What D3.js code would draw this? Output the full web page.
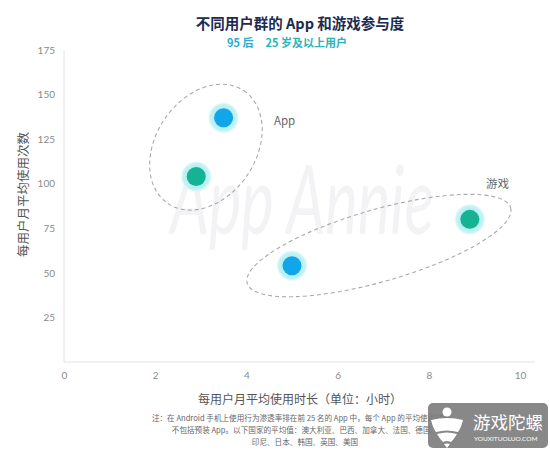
<!DOCTYPE html>
<html>
<head>
<meta charset="utf-8">
<script src="https://cdn.jsdelivr.net/npm/d3@7"></script>
<style>
  html, body { margin: 0; padding: 0; background: #fff; }
  svg { display: block; }
</style>
</head>
<body>
<svg id="chart" width="550" height="453"></svg>
<script>
// ---- data ----
const audiences = ["95 后", "25 岁及以上用户"];
const audienceColors = ["#11a6ea", "#16b294"];
const groups = ["App", "游戏"];
// hours per user per month, sessions per user per month (order follows audiences)
const appHours = [3.5, 2.9];
const appSessions = [137, 104];
const gameHours = [5.0, 8.9];
const gameSessions = [54, 80];
const xTicks = [0, 2, 4, 6, 8, 10];
const yTicks = [25, 50, 75, 100, 125, 150, 175];

const titleText = "不同用户群的 App 和游戏参与度";
const xTitle = "每用户月平均使用时长（单位：小时）";
const yTitle = "每用户月平均使用次数";
const notes = [
  "注：在 Android 手机上使用行为渗透率排在前 25 名的 App 中，每个 App 的平均使用时长。",
  "不包括预装 App。以下国家的平均值：澳大利亚、巴西、加拿大、法国、德国、",
  "印尼、日本、韩国、英国、美国"
];

const cjk = "'Noto Sans CJK SC', 'Noto Sans', sans-serif";
const num = "Lato, 'Open Sans', sans-serif";

const svg = d3.select("#chart");

const x = d3.scaleLinear().domain([0, 10]).range([64, 520]);
const y = d3.scaleLinear().domain([0, 175]).range([362, 50]);

// faint brand watermark behind the plot (condensed horizontally)
svg.append("text")
  .attr("transform", "translate(302,234) scale(0.64,1)")
  .attr("text-anchor", "middle")
  .attr("font-family", num)
  .attr("font-style", "italic")
  .attr("font-weight", 400)
  .attr("font-size", 96)
  .attr("fill", "#f3f3f5")
  .text("App Annie");

// title block
svg.append("text")
  .attr("x", 300).attr("y", 29)
  .attr("text-anchor", "middle")
  .attr("font-family", cjk)
  .attr("font-weight", 700)
  .attr("font-size", 14.5)
  .attr("fill", "#1d2b4f")
  .text(titleText);

const sub = svg.append("text")
  .attr("x", 287).attr("y", 47)
  .attr("text-anchor", "middle")
  .attr("font-family", cjk)
  .attr("font-weight", 700)
  .attr("font-size", 11);
sub.append("tspan").attr("fill", "#27acd2").text(audiences[0]);
sub.append("tspan").attr("dx", 12).attr("fill", "#27b5b6").text(audiences[1]);

// axes
const gx = svg.append("g")
  .attr("transform", `translate(0,${y(0)})`)
  .call(d3.axisBottom(x).tickValues(xTicks).tickSize(0).tickPadding(10).tickFormat(d3.format("d")));
gx.select(".domain").attr("stroke", "#e4e4e4").attr("d", `M${x(0)},0H535`);

const gy = svg.append("g")
  .attr("transform", `translate(${x(0)},0)`)
  .call(d3.axisLeft(y).tickValues(yTicks).tickSize(0).tickPadding(9).tickFormat(d3.format("d")));
gy.select(".domain").attr("stroke", "#e4e4e4").attr("d", `M0,${y(175)}V${y(0)}`);

svg.selectAll(".tick text")
  .attr("font-family", num)
  .attr("font-size", 10)
  .attr("fill", "#8a8a8a");

// axis titles
svg.append("text")
  .attr("x", 300).attr("y", 404)
  .attr("text-anchor", "middle")
  .attr("font-family", cjk)
  .attr("font-size", 12)
  .attr("fill", "#555")
  .text(xTitle);

svg.append("text")
  .attr("transform", `translate(25,${y(94)}) rotate(-90)`)
  .attr("text-anchor", "middle")
  .attr("dominant-baseline", "middle")
  .attr("font-family", cjk)
  .attr("font-size", 12.5)
  .attr("fill", "#555")
  .text(yTitle);

// notes
svg.selectAll("text.note")
  .data(notes)
  .join("text")
  .attr("class", "note")
  .attr("x", 305)
  .attr("y", (d, i) => 421 + i * 12)
  .attr("text-anchor", "middle")
  .attr("font-family", cjk)
  .attr("font-size", 7.6)
  .attr("fill", "#666")
  .text(d => d);

// group outlines: dashed ellipses around each pair of points
const groupData = [
  { name: groups[0], hours: appHours, sessions: appSessions, rx: 68, ry: 50, angle: -56, dx: -4, dy: 0, lx: 274, ly: 125 },
  { name: groups[1], hours: gameHours, sessions: gameSessions, rx: 137, ry: 36, angle: -16, dx: -2, dy: 3, lx: 486, ly: 188 }
];

groupData.forEach(g => {
  const cx = (x(g.hours[0]) + x(g.hours[1])) / 2 + g.dx;
  const cy = (y(g.sessions[0]) + y(g.sessions[1])) / 2 + g.dy;
  svg.append("ellipse")
    .attr("transform", `translate(${cx},${cy}) rotate(${g.angle})`)
    .attr("rx", g.rx).attr("ry", g.ry)
    .attr("fill", "none")
    .attr("stroke", "#a9a9a9")
    .attr("stroke-width", 1.1)
    .attr("stroke-dasharray", "4,3");
  svg.append("text")
    .attr("x", g.lx).attr("y", g.ly)
    .attr("font-family", cjk)
    .attr("font-size", 11.5)
    .attr("fill", "#666")
    .text(g.name);
});

// soft halo behind each point
const defs = svg.append("defs");
const halo = defs.append("radialGradient").attr("id", "halo");
halo.append("stop").attr("offset", "60%").attr("stop-color", "#b3eef2");
halo.append("stop").attr("offset", "85%").attr("stop-color", "#c9f3f5");
halo.append("stop").attr("offset", "100%").attr("stop-color", "#e8fafb").attr("stop-opacity", 0);

const points = [];
groupData.forEach(g => g.hours.forEach((h, i) => points.push({ h, s: g.sessions[i], c: audienceColors[i] })));

svg.selectAll("circle.halo")
  .data(points)
  .join("circle")
  .attr("class", "halo")
  .attr("cx", d => x(d.h)).attr("cy", d => y(d.s))
  .attr("r", 16)
  .attr("fill", "url(#halo)");

svg.selectAll("circle.dot")
  .data(points)
  .join("circle")
  .attr("class", "dot")
  .attr("cx", d => x(d.h)).attr("cy", d => y(d.s))
  .attr("r", 9.5)
  .attr("fill", d => d.c);

// publisher badge in the lower right corner
const badge = svg.append("g");
badge.append("rect")
  .attr("x", 428).attr("y", 403).attr("width", 120).attr("height", 45).attr("rx", 5)
  .attr("fill", "#7b7b7b").attr("opacity", 0.9);
const logo = badge.append("g").attr("transform", "translate(447,426)").attr("fill", "#fff");
logo.append("circle").attr("cx", 0).attr("cy", -14).attr("r", 4.5);
logo.append("path").attr("d", "M-16,-6 Q0,-10 16,-6 Q14,2 11,6 Q0,3 -11,6 Q-14,2 -16,-6Z");
logo.append("path").attr("d", "M-10,8 Q0,5 10,8 Q7,13 4,16 Q0,14 -4,16 Q-7,13 -10,8Z");
logo.append("path").attr("d", "M-3,18 Q0,17 3,18 L0,22Z");
badge.append("text")
  .attr("x", 473).attr("y", 429)
  .attr("font-family", cjk)
  .attr("font-size", 17.5)
  .attr("fill", "#fff")
  .text("游戏陀螺");
badge.append("text")
  .attr("x", 474).attr("y", 441)
  .attr("font-family", num)
  .attr("font-size", 6.5)
  .attr("fill", "#fff")
  .text("YOUXITUOLUO.COM");
</script>
</body>
</html>
